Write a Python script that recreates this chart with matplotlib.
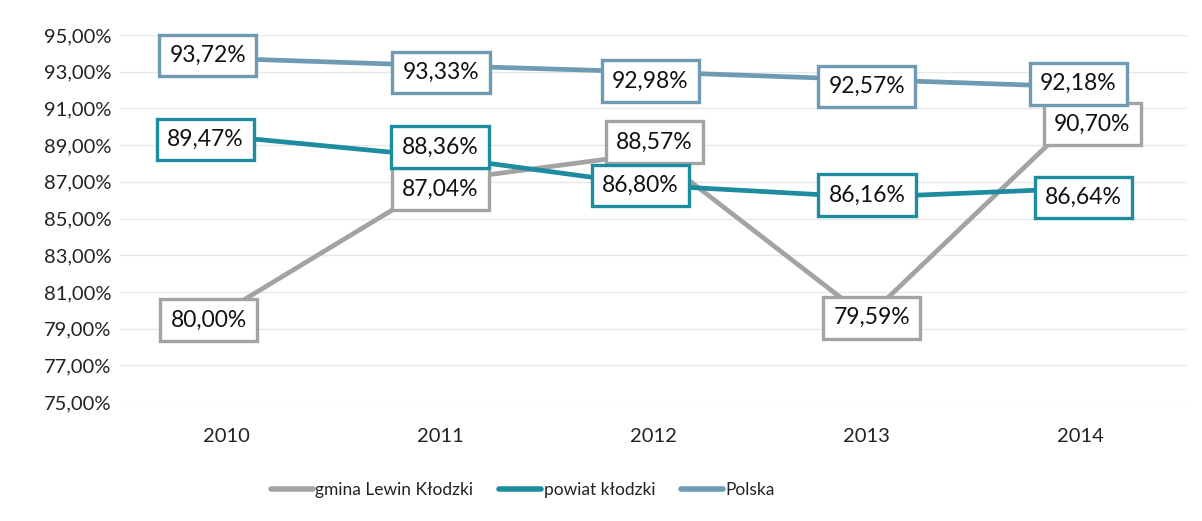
import matplotlib
matplotlib.use("Agg")
import matplotlib.pyplot as plt
from matplotlib.lines import Line2D

plt.rcParams['font.family'] = ['Lato', 'DejaVu Sans']

years = ["2010", "2011", "2012", "2013", "2014"]
gmina = [80.00, 87.04, 88.57, 79.59, 90.70]
powiat = [89.47, 88.36, 86.80, 86.16, 86.64]
polska = [93.72, 93.33, 92.98, 92.57, 92.18]
y_ticks = [75, 77, 79, 81, 83, 85, 87, 89, 91, 93, 95]
series_names = ["gmina Lewin Kłodzki", "powiat kłodzki", "Polska"]

c_gmina = "#a3a3a3"
c_powiat = "#1d8c9f"
c_polska = "#6f9ab3"

# label box offsets from each point, in pixels (right, down)
off_gmina = [(-18, 10), (0, 8), (1, -11), (5, 0), (12, 10)]
off_powiat = [(-21, 3), (0, -10), (-13, 0), (0, -2), (3, 9)]
off_polska = [(-19, -3), (1, 7), (-3, 9), (0, 7), (-2, -3)]

fig = plt.figure(figsize=(12.02, 5.21), dpi=100)
ax = fig.add_axes([0.0998, 0.2284, 0.8877, 0.7044])

x = list(range(len(years)))
ax.set_xlim(-0.5, len(years) - 0.5)
ax.set_ylim(75, 95)

for v in y_ticks:
    ax.axhline(v, color="#e8e8e8", lw=1, zorder=0)

series = [(gmina, c_gmina, off_gmina), (powiat, c_powiat, off_powiat), (polska, c_polska, off_polska)]
for i, (vals, col, offs) in enumerate(series):
    ax.plot(x, vals, color=col, lw=3.4, solid_capstyle="round", zorder=2 + i)
    for xi, v, (dx, dy) in zip(x, vals, offs):
        ax.annotate(f"{v:.2f}%".replace(".", ","), (xi, v), xytext=(dx, -dy),
                    textcoords="offset pixels", ha="center", va="center",
                    fontsize=16.5, color="#111111", zorder=10 + i,
                    bbox=dict(boxstyle="square,pad=0.45", fc="white", ec=col, lw=2.4))

ax.set_xticks(x)
ax.set_xticklabels(years)
ax.set_yticks(y_ticks)
ax.set_yticklabels([f"{v:.2f}%".replace(".", ",") for v in y_ticks])
ax.tick_params(axis="both", length=0, labelsize=14.5, colors="#222222")
ax.tick_params(axis="x", pad=19)
ax.tick_params(axis="y", pad=6)
for s in ax.spines.values():
    s.set_visible(False)

handles = [Line2D([0], [0], color=c, lw=4, solid_capstyle="round") for c in (c_gmina, c_powiat, c_polska)]
fig.legend(handles, series_names, loc="center", bbox_to_anchor=(0.435, 0.060), ncol=3,
           frameon=False, fontsize=12.5, handlelength=2.4, handletextpad=0.15, columnspacing=1.5,
           labelcolor="#222222")

fig.savefig("out.png", dpi=100, facecolor="white")
